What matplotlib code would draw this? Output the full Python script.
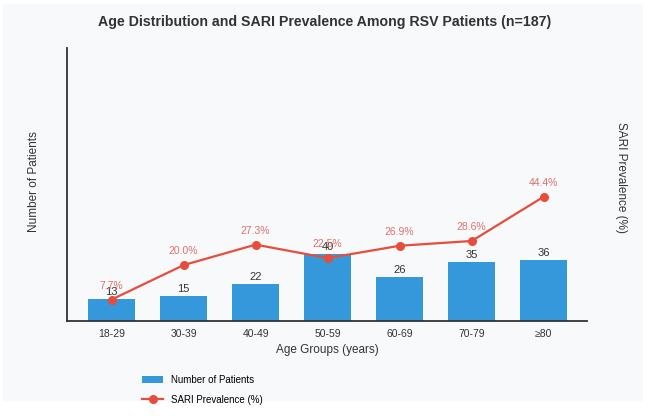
import numpy as np
import matplotlib
matplotlib.use('Agg')
import matplotlib.pyplot as plt
from matplotlib.patches import Rectangle

plt.rcParams['font.family'] = ['Liberation Sans', 'DejaVu Sans']

# ── Data ────────────────────────────────────────────────────────────────
age_groups = ['18-29', '30-39', '40-49', '50-59', '60-69', '70-79', '≥80']
n_patients = [13, 15, 22, 40, 26, 35, 36]
sari_pct = [7.7, 20.0, 27.3, 22.5, 26.9, 28.6, 44.4]

bar_color = '#3498db'
line_color = '#e74c3c'
bg = '#f8f9fa'

W, H = 650, 416
fig = plt.figure(figsize=(6.5, 4.16), dpi=100, facecolor='white')
# light panel behind the chart (screenshot has a thin white border)
fig.patches.append(Rectangle((3 / W, 1 - 401 / H), 640 / W, 397 / H,
                             transform=fig.transFigure, facecolor=bg,
                             edgecolor='none', zorder=-10))

ax = fig.add_axes([0.103, 0.228, 0.800, 0.657])
ax.set_facecolor(bg)

x = np.arange(len(age_groups))
bars = ax.bar(x, n_patients, width=0.65, color=bar_color, label='Number of Patients', zorder=2)
for xi, v in zip(x, n_patients):
    ax.text(xi, v + 1.2, str(v), ha='center', va='bottom', fontsize=8, color='#333333', zorder=5)

ax.set_xlim(-0.62, 6.6)
ax.set_ylim(0, 162)
ax.set_xticks(x)
ax.set_xticklabels(age_groups, fontsize=7.5, color='#333333')
ax.set_yticks([])
ax.tick_params(axis='x', length=0, pad=6)
for s in ['top', 'right']:
    ax.spines[s].set_visible(False)
for s in ['left', 'bottom']:
    ax.spines[s].set_color('#333333')
    ax.spines[s].set_linewidth(1.3)
ax.set_xlabel('Age Groups (years)', fontsize=8.5, color='#333333', labelpad=3)
ax.set_ylabel('Number of Patients', fontsize=8.5, color='#333333')
ax.yaxis.set_label_coords(-0.052, 0.51)

ax2 = ax.twinx()
line, = ax2.plot(x, sari_pct, color=line_color, marker='o', markersize=5.5,
                 linewidth=1.6, label='SARI Prevalence (%)', zorder=4)
for xi, v in zip(x, sari_pct):
    ax2.text(xi, v + 3.2, f'{v:.1f}%', ha='center', va='bottom', fontsize=7.5,
             color='#e0706a', zorder=5)
ax2.set_ylim(0, 97.5)
ax2.set_yticks([])
for s in ['top', 'right', 'left', 'bottom']:
    ax2.spines[s].set_visible(False)
ax2.set_ylabel('SARI Prevalence (%)', fontsize=8.5, color='#333333', rotation=270)
ax2.yaxis.set_label_coords(1.077, 0.525)

fig.suptitle('Age Distribution and SARI Prevalence Among RSV Patients (n=187)',
             fontsize=10.2, fontweight='bold', color='#333333', y=0.965)

fig.legend([bars, line], ['Number of Patients', 'SARI Prevalence (%)'],
           loc='upper left', bbox_to_anchor=(0.205, 0.12), frameon=False,
           fontsize=7, labelspacing=1.0, handlelength=2.2)

fig.savefig('out.png', dpi=100, facecolor='white')
